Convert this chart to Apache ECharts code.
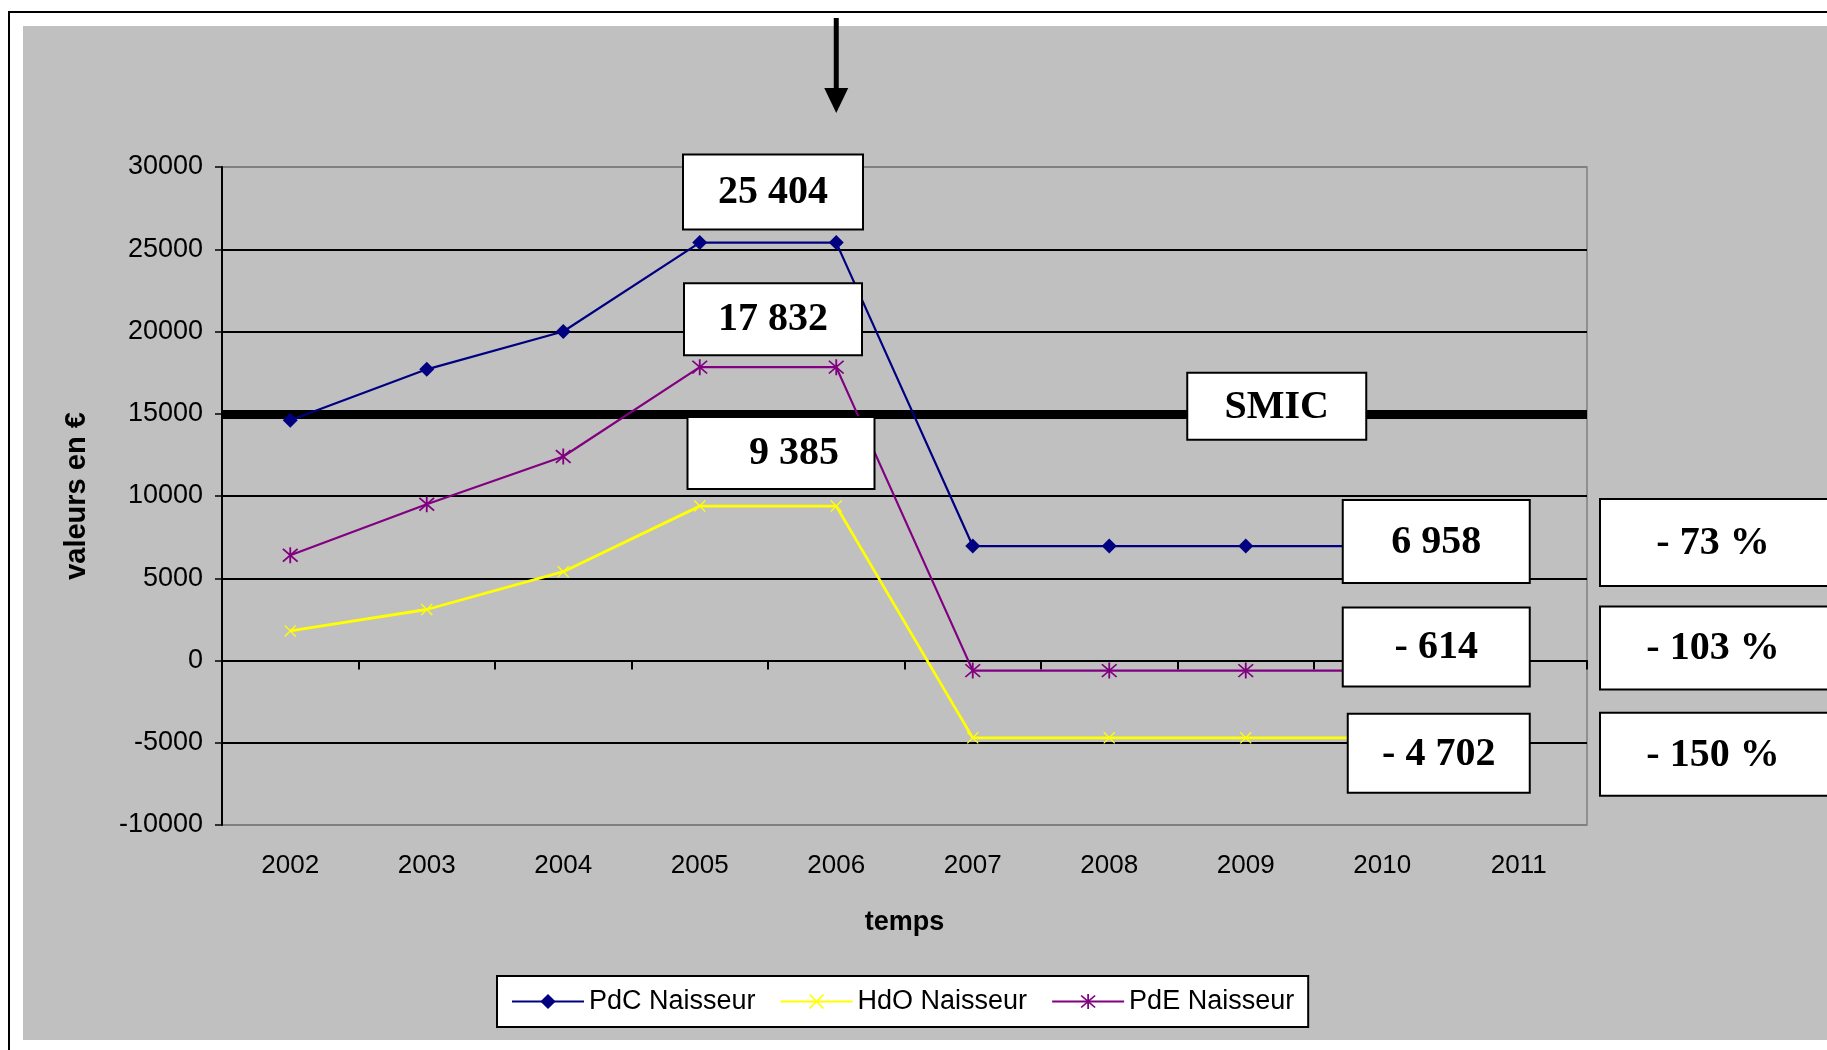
<!DOCTYPE html>
<html>
<head>
<meta charset="utf-8">
<script src="https://cdn.jsdelivr.net/npm/echarts@6/dist/echarts.min.js"></script>
<style>
  html, body { margin: 0; padding: 0; background: #fff; }
  #main { width: 1827px; height: 1050px; }
</style>
</head>
<body>
<div id="main"></div>
<script>
// Years on the category axis
const years = ['2002', '2003', '2004', '2005', '2006', '2007', '2008', '2009', '2010', '2011'];

// Income per unit (€) for each farm profile
const pdcValues = [14600, 17700, 20000, 25404, 25404, 6958, 6958, 6958, 6958, null];
const hdoValues = [1800, 3100, 5400, 9385, 9385, -4702, -4702, -4702, -4702, null];
const pdeValues = [6400, 9500, 12400, 17832, 17832, -614, -614, -614, -614, null];

const seriesNames = ['PdC Naisseur', 'HdO Naisseur', 'PdE Naisseur'];

// Value axis range and step
const yRange = [-10000, 30000];
const yStep = 5000;

// Minimum wage reference level
const smicLevel = [15000];
const smicText = ['SMIC'];

// Index of the peak year and of the first year after the drop
const peakIndex = 3;
const afterIndex = 7;

const SANS = '"Liberation Sans", Arial, sans-serif';
const SERIF = '"Liberation Serif", "Times New Roman", serif';

// Asterisk marker (vertical bar + two diagonals)
const starPath = 'path://M9 0L11 0L11 20L9 20Z' +
  'M2.7 1.3L18.7 17.3L17.3 18.7L1.3 2.7Z' +
  'M17.3 1.3L18.7 2.7L2.7 18.7L1.3 17.3Z';
// Small cross marker
const crossPath = 'path://M2.7 1.3L18.7 17.3L17.3 18.7L1.3 2.7Z' +
  'M17.3 1.3L18.7 2.7L2.7 18.7L1.3 17.3Z';

function fmtThousands(v) {
  const s = String(Math.abs(Math.round(v))).replace(/\B(?=(\d{3})+(?!\d))/g, ' ');
  return (v < 0 ? '- ' : '') + s;
}
function fmtPct(after, before) {
  const p = Math.round((after - before) / Math.abs(before) * 100);
  return (p < 0 ? '- ' + Math.abs(p) : String(p)) + ' %';
}

const chart = echarts.init(document.getElementById('main'));

const splitColors = [];
for (let v = yRange[0]; v <= yRange[1]; v += yStep) {
  splitColors.push(v === yRange[0] || v === yRange[1] ? '#808080' : '#000000');
}

const option = {
  animation: false,
  backgroundColor: 'transparent',
  grid: {
    left: 222, right: 240, top: 167, bottom: 225,
    containLabel: false,
    outerBoundsMode: 'none',
    show: true,
    backgroundColor: 'transparent',
    borderColor: '#808080',
    borderWidth: 1.5
  },
  legend: {
    data: seriesNames,
    left: 497, top: 976,
    orient: 'horizontal',
    backgroundColor: '#ffffff',
    borderColor: '#000000',
    borderWidth: 2,
    borderRadius: 0,
    padding: [12, 14, 12, 14],
    itemGap: 24,
    itemWidth: 72,
    itemHeight: 19,
    textStyle: { fontFamily: SANS, fontSize: 27, color: '#000' }
  },
  xAxis: [
    {
      type: 'category',
      data: years,
      position: 'bottom',
      boundaryGap: true,
      axisLine: { show: false, onZero: false },
      axisTick: { show: false },
      splitLine: { show: false },
      axisLabel: { fontFamily: SANS, fontSize: 26, color: '#000', margin: 28, interval: 0 },
      name: 'temps',
      nameLocation: 'middle',
      nameGap: 84,
      nameTextStyle: { fontFamily: SANS, fontSize: 27, fontWeight: 'bold', color: '#000' }
    },
    {
      type: 'category',
      data: years,
      position: 'bottom',
      boundaryGap: true,
      axisLine: { show: true, onZero: true, onZeroAxisIndex: 0, lineStyle: { color: '#000', width: 2 } },
      axisTick: { show: true, length: 9, lineStyle: { color: '#000', width: 2 } },
      axisLabel: { show: false },
      splitLine: { show: false }
    }
  ],
  yAxis: {
    type: 'value',
    min: yRange[0], max: yRange[1], interval: yStep,
    axisLine: { show: true, lineStyle: { color: '#000', width: 2 } },
    axisTick: { show: true, length: 7, lineStyle: { color: '#000', width: 1.5 } },
    axisLabel: { fontFamily: SANS, fontSize: 27, color: '#000', margin: 19, formatter: v => String(v) },
    splitLine: { show: true, lineStyle: { color: splitColors, width: 2 } },
    name: 'valeurs en €',
    nameLocation: 'middle',
    nameGap: 131,
    nameTextStyle: { fontFamily: SANS, fontSize: 29, fontWeight: 'bold', color: '#000' }
  },
  series: [
    {
      name: seriesNames[0],
      type: 'line',
      data: pdcValues,
      symbol: 'diamond',
      symbolSize: 15,
      lineStyle: { color: '#000080', width: 2.2 },
      itemStyle: { color: '#000080' },
      z: 5,
      markLine: {
        silent: true,
        symbol: ['none', 'none'],
        label: { show: false },
        lineStyle: { color: '#000', width: 9, type: 'solid' },
        data: [{ yAxis: smicLevel[0] }],
        z: 4
      }
    },
    {
      name: seriesNames[1],
      type: 'line',
      data: hdoValues,
      symbol: crossPath,
      symbolSize: 12,
      lineStyle: { color: '#ffff00', width: 2.8 },
      itemStyle: { color: '#ffff00' },
      z: 5
    },
    {
      name: seriesNames[2],
      type: 'line',
      data: pdeValues,
      symbol: starPath,
      symbolSize: 16,
      lineStyle: { color: '#800080', width: 2.2 },
      itemStyle: { color: '#800080' },
      z: 5
    }
  ]
};

chart.setOption(option);

// Annotation boxes, anchored on the data positions
const px = (i, v) => chart.convertToPixel({ seriesIndex: 0 }, [i, v]);

function box(left, top, w, h, text, textCx) {
  return {
    type: 'group',
    z: 100,
    children: [
      { type: 'rect', z: 100, shape: { x: left, y: top, width: w, height: h },
        style: { fill: '#ffffff', stroke: '#000000', lineWidth: 2 } },
      { type: 'text', z: 101, x: textCx, y: top + h / 2 + 1,
        style: { text: text, font: 'bold 40px ' + SERIF, fill: '#000', align: 'center', verticalAlign: 'middle' } }
    ]
  };
}

const allSeries = [pdcValues, hdoValues, pdeValues];
// box placement relative to the peak pair and to the last plateau point
const peakStyle = [
  { dx: 5, gap: 13, w: 180, h: 75, tdx: 0 },
  { dx: 13, gap: 17, w: 187, h: 72, tdx: 13 },
  { dx: 5, gap: 12, w: 178, h: 72, tdx: 0 }
];
const afterStyle = [
  { dx: 97, dy: -46, w: 187, h: 83 },
  { dx: 102, dy: -24, w: 182, h: 79 },
  { dx: 97, dy: -63, w: 187, h: 79 }
];

const graphics = [];
const gridRightPx = 1827 - option.grid.right;

// page frame and grey chart area
graphics.push({ type: 'rect', z: -20, shape: { x: 9, y: 12, width: 1900, height: 1100 },
  style: { fill: '#ffffff', stroke: '#000000', lineWidth: 2 } });
graphics.push({ type: 'rect', z: -19, shape: { x: 23, y: 26, width: 1900, height: 1014 },
  style: { fill: '#c0c0c0' } });

allSeries.forEach((vals, k) => {
  const peak = vals[peakIndex];
  const after = vals[afterIndex];
  const p5 = px(peakIndex, peak);
  const p6 = px(peakIndex + 1, peak);
  const mid = (p5[0] + p6[0]) / 2;
  const ps = peakStyle[k];
  const cx = mid + ps.dx;
  graphics.push(box(cx - ps.w / 2, p5[1] - ps.gap - ps.h, ps.w, ps.h, fmtThousands(peak), cx + ps.tdx));

  const pa = px(afterIndex, after);
  const as = afterStyle[k];
  const left = pa[0] + as.dx;
  graphics.push(box(left, pa[1] + as.dy, as.w, as.h, fmtThousands(after), left + as.w / 2));

  // percentage change box at the right of the plot
  const pl = gridRightPx + 13;
  graphics.push(box(pl, pa[1] + as.dy - 1, 260, as.h + 4, fmtPct(after, peak), pl + 113));
});

// SMIC label box on the reference line
const ps = px(afterIndex, smicLevel[0]);
graphics.push(box(ps[0] + 31 - 89.5, ps[1] - 41, 179, 67, smicText[0], ps[0] + 31));

// Arrow pointing at the last peak year
const pArrow = px(peakIndex + 1, yRange[1]);
graphics.push({ type: 'rect', z: 100, shape: { x: pArrow[0] - 2.5, y: 18, width: 5, height: 74 },
  style: { fill: '#000' } });
graphics.push({ type: 'polygon', z: 100,
  shape: { points: [[pArrow[0] - 12, 88], [pArrow[0] + 12, 88], [pArrow[0], 113]] },
  style: { fill: '#000' } });

chart.setOption({ graphic: graphics });
</script>
</body>
</html>
